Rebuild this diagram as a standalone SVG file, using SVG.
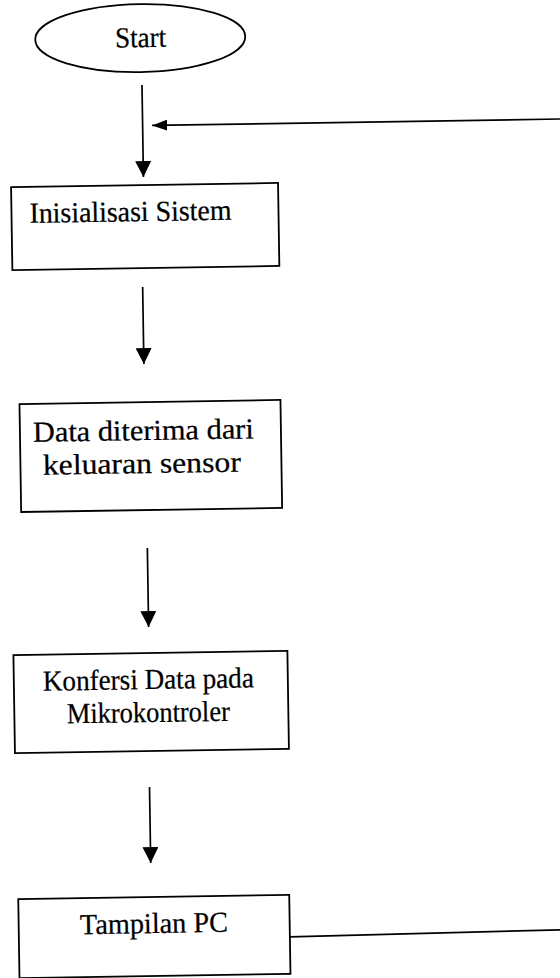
<svg xmlns="http://www.w3.org/2000/svg" width="560" height="978" viewBox="0 0 560 978">
<style>
.box{fill:#fff;stroke:#000;stroke-width:1.8}
.lbl{font-family:"Liberation Serif","Times New Roman",serif;font-size:29px;fill:#000;stroke:#000;stroke-width:0.25}
.c{text-anchor:middle}
.conn{stroke:#000;stroke-width:1.7;fill:none}
</style>
<defs>
<marker id="ah" viewBox="0 0 16 16" refX="16" refY="8" markerWidth="16" markerHeight="16" markerUnits="userSpaceOnUse" orient="auto">
<path d="M0,0 L16,8 L0,16 z" fill="#000"/>
</marker>
<marker id="ahs" viewBox="0 0 15 11" refX="15" refY="5.5" markerWidth="15" markerHeight="11" markerUnits="userSpaceOnUse" orient="auto">
<path d="M0,0 L15,5.5 L0,11 z" fill="#000"/>
</marker>
</defs>
<rect width="560" height="978" fill="#fff"/>
<g transform="rotate(-0.9 150 500)">
<g id="connectors">
<line class="conn" x1="148.5" y1="85" x2="148.5" y2="177" marker-end="url(#ah)"/>
<line class="conn" x1="575" y1="125.5" x2="158" y2="125.5" marker-end="url(#ahs)"/>
<line class="conn" x1="146" y1="287" x2="146" y2="364" marker-end="url(#ah)"/>
<line class="conn" x1="146.6" y1="548" x2="146.6" y2="627" marker-end="url(#ah)"/>
<line class="conn" x1="145" y1="787" x2="145" y2="863" marker-end="url(#ah)"/>
<line class="conn" x1="283" y1="939" x2="575" y2="936"/>
</g>
<g id="start">
<ellipse class="box" cx="147.5" cy="38" rx="105" ry="34"/>
<text class="lbl c" x="147.8" y="47" textLength="51" lengthAdjust="spacingAndGlyphs">Start</text>
</g>
<g id="inisialisasi">
<rect class="box" x="16" y="185" width="267" height="83"/>
<text class="lbl" x="34" y="221" textLength="202" lengthAdjust="spacingAndGlyphs">Inisialisasi Sistem</text>
</g>
<g id="data">
<rect class="box" x="21" y="402" width="261" height="108"/>
<text class="lbl c" x="144.4" y="440" textLength="221" lengthAdjust="spacingAndGlyphs">Data diterima dari</text>
<text class="lbl c" x="142.4" y="473" textLength="198" lengthAdjust="spacingAndGlyphs">keluaran sensor</text>
</g>
<g id="konfersi">
<rect class="box" x="11" y="653" width="274" height="98"/>
<text class="lbl c" x="145.5" y="689" textLength="211" lengthAdjust="spacingAndGlyphs">Konfersi Data pada</text>
<text class="lbl c" x="145" y="722" textLength="163" lengthAdjust="spacingAndGlyphs">Mikrokontroler</text>
</g>
<g id="tampilan">
<rect class="box" x="12" y="897" width="271" height="79"/>
<text class="lbl c" x="147.3" y="933" textLength="148" lengthAdjust="spacingAndGlyphs">Tampilan PC</text>
</g>
</g>
</svg>
